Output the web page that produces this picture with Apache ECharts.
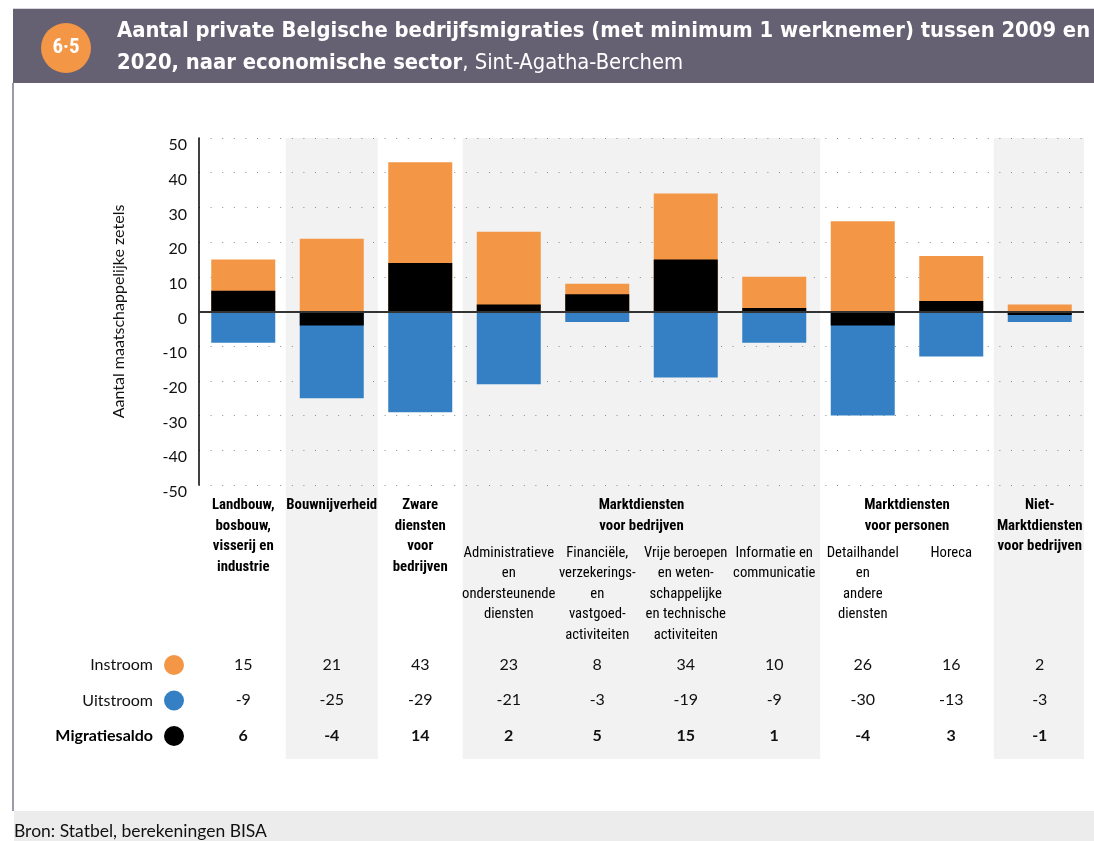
<!DOCTYPE html>
<html>
<head>
<meta charset="utf-8">
<script src="https://cdn.jsdelivr.net/npm/echarts@6/dist/echarts.min.js"></script>
<style>
  html, body { margin: 0; padding: 0; background: #fff; }
  #chart { width: 1094px; height: 841px; }
</style>
</head>
<body>
<div id="chart"></div>
<script>
// sectors, in the order of the columns
const categories = ['Landbouw', 'Bouwnijverheid', 'Zware diensten', 'Administratieve', 'Financiële',
  'Vrije beroepen', 'Informatie', 'Detailhandel', 'Horeca', 'Niet-Marktdiensten'];
const mainLabels = ['Landbouw,\nbosbouw,\nvisserij en\nindustrie', 'Bouwnijverheid', 'Zware\ndiensten\nvoor\nbedrijven',
  '', '', '', '', '', '', 'Niet-\nMarktdiensten\nvoor bedrijven'];
const subLabels = ['', '', '', 'Administratieve\nen\nondersteunende\ndiensten',
  'Financiële,\nverzekerings-\nen\nvastgoed-\nactiviteiten',
  'Vrije beroepen\nen weten-\nschappelijke\nen technische\nactiviteiten',
  'Informatie en\ncommunicatie', 'Detailhandel\nen\nandere\ndiensten', 'Horeca', ''];
// groups of columns: first and last column index
const groupNames = ['Marktdiensten\nvoor bedrijven', 'Marktdiensten\nvoor personen'];
const groupFrom = [3, 7];
const groupTo = [6, 8];
const shaded = [0, 1, 0, 1, 1, 1, 1, 0, 0, 1];

const instroom = [15, 21, 43, 23, 8, 34, 10, 26, 16, 2];
const uitstroom = [-9, -25, -29, -21, -3, -19, -9, -30, -13, -3];
const saldo = [6, -4, 14, 2, 5, 15, 1, -4, 3, -1];

const titleLine1 = 'Aantal private Belgische bedrijfsmigraties (met minimum 1 werknemer) tussen 2009 en';
const titleLine2 = '2020, naar economische sector';
const titlePlace = ', Sint-Agatha-Berchem';

const ORANGE = '#f39646';
const BLUE = '#3580c4';
const SANS = 'Lato, "Liberation Sans", sans-serif';
const TITLE_FONT = '"DejaVu Sans Condensed", Roboto, sans-serif';

// pick a narrow face for the labels, then size it to the original widths
const ctx = document.createElement('canvas').getContext('2d');
function hasFont(name) {
  const s = 'Bouwnijverheid Marktdiensten 0123';
  ctx.font = '40px monospace';
  const w1 = ctx.measureText(s).width;
  ctx.font = '40px "' + name + '", monospace';
  return ctx.measureText(s).width !== w1;
}
const narrowCandidates = ['Roboto Condensed', 'Open Sans Condensed', 'Liberation Sans Narrow', 'DejaVu Sans Condensed'];
const NARROW = '"' + (narrowCandidates.filter(hasFont)[0] || 'DejaVu Sans Condensed') + '", sans-serif';
function fitSize(text, weight, family, target, cap) {
  ctx.font = weight + ' 100px ' + family;
  return Math.min(cap, Math.round(1000 * target / ctx.measureText(text).width) / 10);
}
const boldSize = fitSize('Marktdiensten', 'bold', NARROW, 86, 16);
const regSize = fitSize('Detailhandel', 'normal', NARROW, 72, 16);
const titleSize = fitSize(titleLine1, 'bold', TITLE_FONT, 972, 23);

const chart = echarts.init(document.getElementById('chart'));

// group headings sit on a hidden value axis: column i spans [2i, 2i+2]
const groupPos = {};
groupNames.forEach((n, k) => { groupPos[groupFrom[k] + groupTo[k] + 1] = n; });

function tableAxis(values, offset, bold) {
  return {
    type: 'category', gridIndex: 0, position: 'bottom', offset: offset, z: 2,
    data: categories,
    axisLine: { show: false }, axisTick: { show: false },
    axisLabel: {
      interval: 0, margin: 0, verticalAlign: 'middle',
      fontFamily: SANS, fontSize: 16, color: '#111',
      fontWeight: bold ? 'bold' : 'normal',
      formatter: (v, i) => String(values[i])
    }
  };
}

const option = {
  animation: false,
  title: [{
    left: 117, top: 15.5, padding: 0,
    text: '{b|' + titleLine1 + '}\n{b|' + titleLine2 + '}{r|' + titlePlace + '}',
    textStyle: {
      rich: {
        b: { color: '#fff', fontFamily: TITLE_FONT, fontWeight: 'bold', fontSize: titleSize, lineHeight: 32 },
        r: { color: '#fff', fontFamily: TITLE_FONT, fontWeight: 'normal', fontSize: titleSize, lineHeight: 32 }
      }
    }
  }, {
    left: 14, top: 821, padding: 0,
    text: 'Bron: Statbel, berekeningen BISA',
    textStyle: { color: '#111', fontFamily: SANS, fontWeight: 'normal', fontSize: 17.5, lineHeight: 20 }
  }],
  graphic: [
    { type: 'rect', shape: { x: 13, y: 8, width: 1081, height: 1 }, style: { fill: '#d8d8dc' } },
    { type: 'rect', shape: { x: 13, y: 9, width: 1081, height: 74 }, style: { fill: '#656172' } },
    { type: 'circle', shape: { cx: 66, cy: 48, r: 25 }, style: { fill: ORANGE } },
    { type: 'text', x: 66, y: 48, style: { text: '6·5', fill: '#fff', font: 'bold 21px ' + NARROW, align: 'center', verticalAlign: 'middle' } },
    { type: 'rect', shape: { x: 12, y: 83, width: 2, height: 728 }, style: { fill: '#9c99a8' } },
    { type: 'rect', shape: { x: 14, y: 811, width: 1080, height: 30 }, style: { fill: '#ececec' } }
  ],
  legend: {
    data: ['Instroom', 'Uitstroom', 'Migratiesaldo'],
    orient: 'vertical', align: 'right', right: 910, top: 655, padding: 0,
    icon: 'circle', itemWidth: 20, itemHeight: 20, itemGap: 15.5,
    selectedMode: false,
    formatter: (name) => name === 'Migratiesaldo' ? '{b|' + name + '}' : name,
    textStyle: {
      fontFamily: SANS, fontSize: 16, color: '#111', padding: [0, 6, 0, 0],
      rich: { b: { fontFamily: SANS, fontSize: 16, fontWeight: 'bold', color: '#000' } }
    }
  },
  grid: [
    { left: 199, right: 10, top: 138, bottom: 356 },
    { left: 199, right: 10, top: 138, bottom: 82 }
  ],
  xAxis: [
    {
      type: 'category', gridIndex: 0, position: 'bottom', z: 2, data: categories,
      axisLine: { show: false }, axisTick: { show: false },
      axisLabel: {
        interval: 0, margin: 10, verticalAlign: 'top', lineHeight: 20.7,
        fontFamily: NARROW, fontWeight: 'bold', fontSize: boldSize, color: '#000',
        formatter: (v, i) => mainLabels[i]
      }
    },
    {
      type: 'value', gridIndex: 0, position: 'bottom', z: 2, min: 0, max: categories.length * 2, interval: 1,
      axisLine: { show: false }, axisTick: { show: false }, splitLine: { show: false },
      axisLabel: {
        margin: 10, verticalAlign: 'top', lineHeight: 20.7,
        fontFamily: NARROW, fontWeight: 'bold', fontSize: boldSize, color: '#000',
        formatter: (v) => groupPos[v] || ''
      }
    },
    {
      type: 'category', gridIndex: 0, position: 'bottom', offset: 48, z: 2, data: categories,
      axisLine: { show: false }, axisTick: { show: false },
      axisLabel: {
        interval: 0, margin: 10, verticalAlign: 'top', lineHeight: 20.5,
        fontFamily: NARROW, fontSize: regSize, color: '#000',
        formatter: (v, i) => subLabels[i]
      }
    },
    tableAxis(instroom, 180, false),
    tableAxis(uitstroom, 215, false),
    tableAxis(saldo, 251, true),
    { type: 'category', gridIndex: 1, data: categories, show: false }
  ],
  yAxis: [
    {
      type: 'value', gridIndex: 0, min: -50, max: 50, interval: 10, z: 2,
      name: 'Aantal maatschappelijke zetels', nameLocation: 'middle', nameGap: 72,
      nameTextStyle: { fontFamily: SANS, fontSize: 16, color: '#111' },
      axisLine: { show: true, lineStyle: { color: '#000', width: 1.5 } },
      axisTick: { show: false },
      axisLabel: { fontFamily: SANS, fontSize: 16, color: '#111', margin: 12, verticalAlign: 'top', lineHeight: 14 },
      splitLine: { show: true, lineStyle: { color: '#8a8a8a', width: 1, type: [1, 10.6] } }
    },
    { type: 'value', gridIndex: 1, min: 0, max: 1, show: false }
  ],
  series: [
    {
      name: 'band', type: 'bar', xAxisIndex: 6, yAxisIndex: 1, z: 1, silent: true,
      barWidth: 92, itemStyle: { color: '#f2f2f2' }, data: shaded
    },
    {
      name: 'Instroom', type: 'bar', xAxisIndex: 0, yAxisIndex: 0, z: 3,
      barWidth: 64, barGap: '-100%', itemStyle: { color: ORANGE }, data: instroom
    },
    {
      name: 'Uitstroom', type: 'bar', xAxisIndex: 0, yAxisIndex: 0, z: 3,
      barWidth: 64, barGap: '-100%', itemStyle: { color: BLUE }, data: uitstroom
    },
    {
      name: 'Migratiesaldo', type: 'bar', xAxisIndex: 0, yAxisIndex: 0, z: 3,
      barWidth: 64, barGap: '-100%', itemStyle: { color: '#000' }, data: saldo,
      markLine: {
        silent: true, symbol: 'none', label: { show: false },
        lineStyle: { color: '#333', width: 2, type: 'solid' },
        data: [{ yAxis: 0 }]
      }
    }
  ]
};

chart.setOption(option);
</script>
</body>
</html>
